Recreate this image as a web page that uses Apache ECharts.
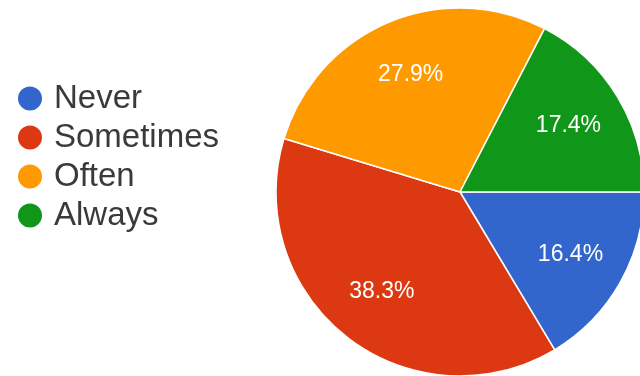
<!DOCTYPE html>
<html>
<head>
<meta charset="utf-8">
<script src="https://cdn.jsdelivr.net/npm/echarts@6/dist/echarts.min.js"></script>
<style>
  html, body { margin: 0; padding: 0; background: #fff; }
  #chart { width: 640px; height: 376px; }
</style>
</head>
<body>
<div id="chart"></div>
<script>
// Answer categories and their share of responses (%)
const categories = ['Never', 'Sometimes', 'Often', 'Always'];
const shares = [16.4, 38.3, 27.9, 17.4];
const colors = ['#3366cc', '#dc3912', '#ff9900', '#109618'];

const pieCenter = [460, 192];
const pieRadius = 184;
// place each value label at this fraction of the radius instead of the midpoint
const labelRadiusFraction = 0.69;

const chart = echarts.init(document.getElementById('chart'), null, { renderer: 'canvas' });

chart.setOption({
  animation: false,
  color: colors,
  legend: {
    orient: 'vertical',
    left: 11,
    top: 77,
    icon: 'circle',
    itemWidth: 26,
    itemHeight: 26,
    itemGap: 6,
    data: categories,
    textStyle: {
      fontFamily: 'Liberation Sans, Arial, sans-serif',
      fontSize: 33,
      color: '#3a3a3a',
      padding: [0, 0, 0, 6]
    }
  },
  series: [{
    type: 'pie',
    center: pieCenter,
    radius: [0, pieRadius],
    startAngle: 0,
    clockwise: true,
    data: categories.map((name, i) => ({ name, value: shares[i] })),
    itemStyle: { borderColor: '#ffffff', borderWidth: 1.5 },
    label: {
      show: true,
      position: 'inside',
      formatter: p => p.value.toFixed(1) + '%',
      color: '#ffffff',
      fontFamily: 'Liberation Sans, Arial, sans-serif',
      fontSize: 23
    },
    labelLine: { show: false },
    labelLayout: function (params) {
      const r = params.labelRect;
      const lx = r.x + r.width / 2;
      const ly = r.y + r.height / 2;
      const vx = lx - pieCenter[0];
      const vy = ly - pieCenter[1];
      const d = Math.sqrt(vx * vx + vy * vy) || 1;
      const target = pieRadius * labelRadiusFraction;
      return { dx: vx / d * target - vx, dy: vy / d * target - vy };
    },
    emphasis: { disabled: true }
  }]
});
</script>
</body>
</html>
